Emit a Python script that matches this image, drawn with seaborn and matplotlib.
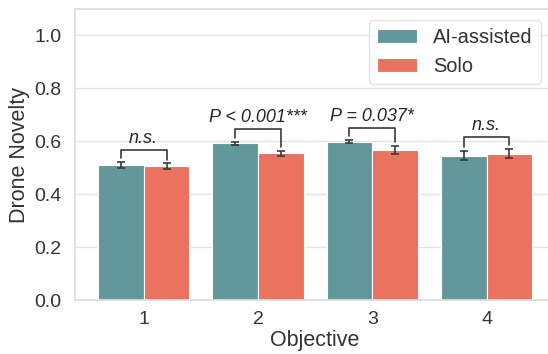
import matplotlib
matplotlib.use("Agg")
import matplotlib.pyplot as plt
from matplotlib.container import BarContainer
import seaborn as sns
import pandas as pd
import numpy as np

objectives = ["1", "2", "3", "4"]
groups = ["AI-assisted", "Solo"]
ai_mean = [0.510, 0.592, 0.598, 0.546]
solo_mean = [0.506, 0.555, 0.567, 0.553]
ai_err = [0.010, 0.007, 0.006, 0.018]
solo_err = [0.010, 0.010, 0.015, 0.017]
sig_labels = ["n.s.", "P < 0.001***", "P = 0.037*", "n.s."]
yticks = [0.0, 0.2, 0.4, 0.6, 0.8, 1.0]
colors = ["#62989A", "#EA725E"]

sns.set_theme(style="whitegrid")
plt.rcParams['font.family'] = ['Liberation Sans', 'DejaVu Sans']
plt.rcParams['axes.edgecolor'] = '#dddddd'
plt.rcParams['grid.color'] = '#e3e3e3'

df = pd.DataFrame({
    "Objective": objectives * 2,
    "Group": [groups[0]] * 4 + [groups[1]] * 4,
    "Value": ai_mean + solo_mean,
    "Err": ai_err + solo_err,
})

fig = plt.figure(figsize=(5.48, 3.54), dpi=100)
ax = fig.add_axes([0.137, 0.1525, 1.013 - 0.137, 0.9746 - 0.1525])

sns.barplot(data=df, x="Objective", y="Value", hue="Group", order=objectives,
            hue_order=groups, palette=colors, saturation=1, errorbar=None,
            edgecolor="white", linewidth=0.8, ax=ax)

bar_conts = [c for c in ax.containers if isinstance(c, BarContainer)]
centres = {}
for gi, cont in enumerate(bar_conts[:2]):
    errs = [ai_err, solo_err][gi]
    vals = [ai_mean, solo_mean][gi]
    xs = [p.get_x() + p.get_width() / 2 for p in cont.patches]
    centres[gi] = xs
    ax.errorbar(xs, vals, yerr=errs, fmt="none", ecolor="#3a3a3a",
                elinewidth=1.2, capsize=2.6, capthick=1.2, zorder=5)

# significance brackets
for i in range(len(objectives)):
    x1, x2 = centres[0][i], centres[1][i]
    l1 = ai_mean[i] + ai_err[i] + 0.015
    l2 = solo_mean[i] + solo_err[i] + 0.015
    top = max(l1, l2) + 0.032
    ax.plot([x1, x1, x2, x2], [l1, top, top, l2], color="#3a3a3a", lw=1.2,
            zorder=6)
    ax.text((x1 + x2) / 2, top + 0.012, sig_labels[i], ha="center",
            va="bottom", fontsize=13, fontstyle="italic", color="#262626")

ax.set_ylim(0, 1.1)
ax.set_xlim(-0.6, 3.6)
ax.set_yticks(yticks)
ax.set_yticklabels([f"{t:.1f}" for t in yticks])
ax.tick_params(axis="y", labelsize=14, colors="#333333", pad=4)
ax.tick_params(axis="x", labelsize=14, colors="#333333", pad=2)
ax.set_xlabel("Objective", fontsize=15.5, color="#333333", labelpad=1)
ax.set_ylabel("Drone Novelty", fontsize=15.5, color="#333333", labelpad=3)
ax.grid(axis="x", visible=False)

leg = ax.legend(loc="upper right", bbox_to_anchor=(0.97, 0.962),
                borderaxespad=0, fontsize=14.4, frameon=True,
                handlelength=2.0, handleheight=0.75)
leg.get_frame().set_edgecolor("#dddddd")
for t in leg.get_texts():
    t.set_color("#333333")

fig.savefig("out.png", dpi=100)
